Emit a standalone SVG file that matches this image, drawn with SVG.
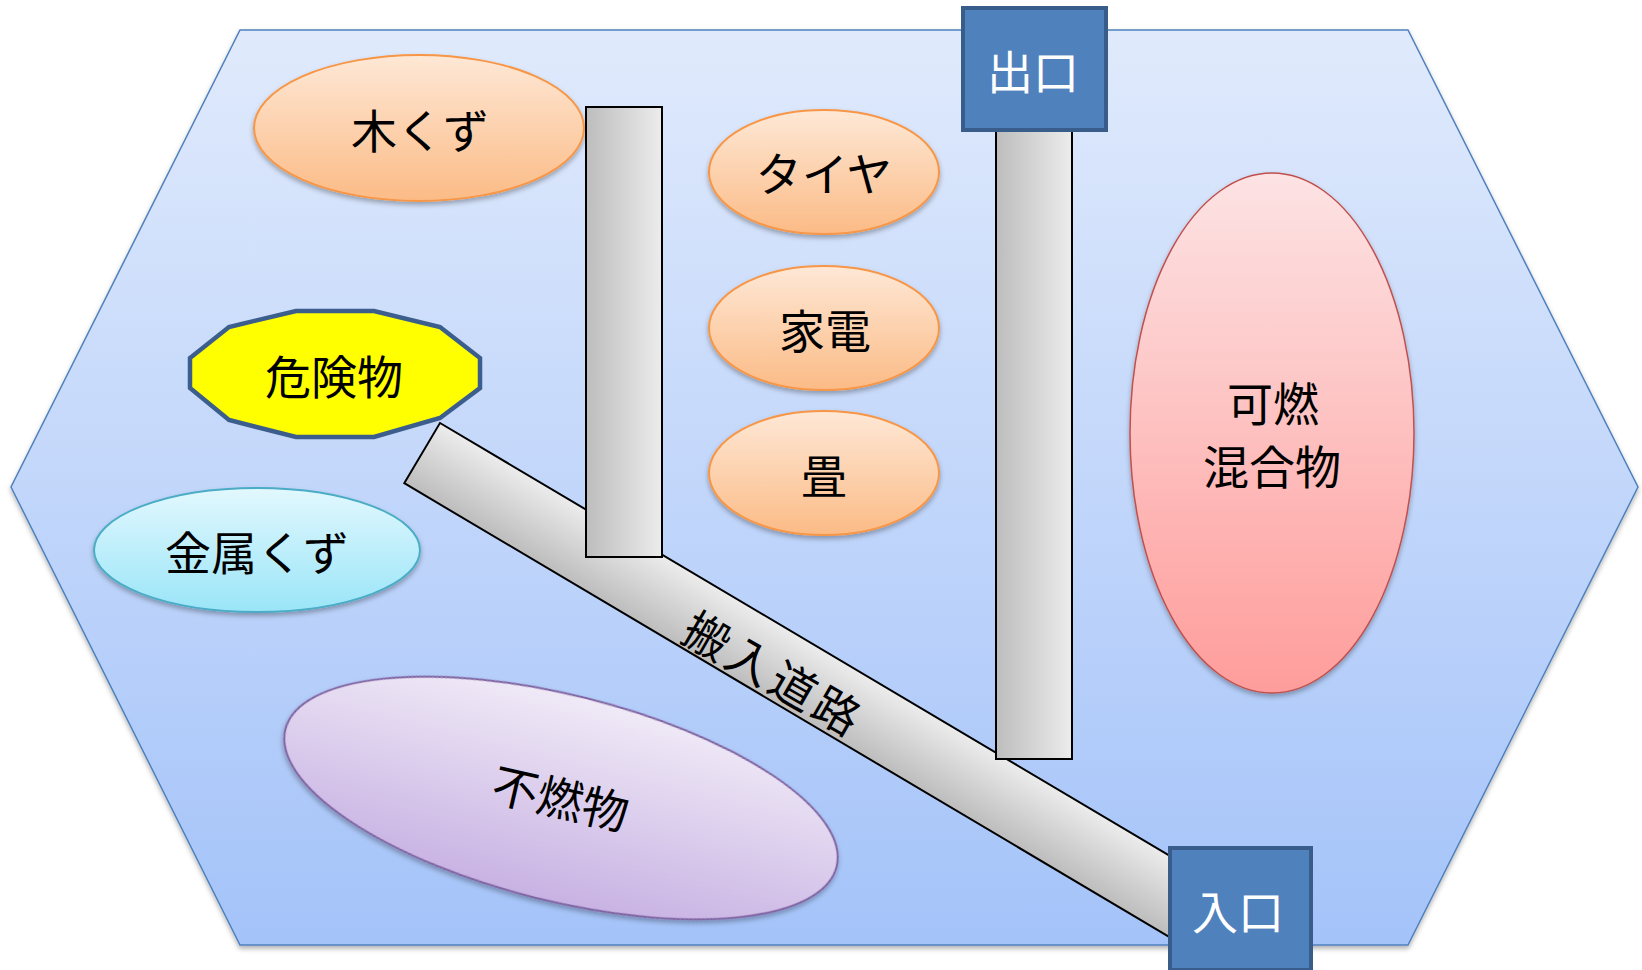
<svg xmlns="http://www.w3.org/2000/svg" width="1642" height="970" viewBox="0 0 1642 970">
<defs>
<linearGradient id="gBg" x1="0" y1="0" x2="0" y2="1"><stop offset="0" stop-color="#e0eafc"/><stop offset="1" stop-color="#a4c3f9"/></linearGradient>
<linearGradient id="gOr" x1="0" y1="0" x2="0" y2="1"><stop offset="0" stop-color="#fee8d6"/><stop offset="1" stop-color="#fbbb86"/></linearGradient>
<linearGradient id="gCy" x1="0" y1="0" x2="0" y2="1"><stop offset="0" stop-color="#e2f8fe"/><stop offset="1" stop-color="#9ae5f8"/></linearGradient>
<linearGradient id="gRd" x1="0" y1="0" x2="0" y2="1"><stop offset="0" stop-color="#fde3e4"/><stop offset="1" stop-color="#fe9d9b"/></linearGradient>
<linearGradient id="gPu" x1="0" y1="0" x2="0" y2="1"><stop offset="0" stop-color="#f0eaf7"/><stop offset="1" stop-color="#c8b2e3"/></linearGradient>
<linearGradient id="gBar" x1="0" y1="0" x2="1" y2="0"><stop offset="0" stop-color="#bdbdbd"/><stop offset="1" stop-color="#ececec"/></linearGradient>
<linearGradient id="gRoad" x1="0" y1="0" x2="0" y2="1"><stop offset="0" stop-color="#ececec"/><stop offset="1" stop-color="#bdbdbd"/></linearGradient>
<filter id="sh" x="-10%" y="-10%" width="120%" height="130%"><feDropShadow dx="0" dy="3" stdDeviation="2.5" flood-color="#000" flood-opacity="0.3"/></filter>
<style>
.t{font-family:"Noto Sans CJK JP","Noto Sans CJK SC",sans-serif;font-size:46px;fill:#000;text-anchor:middle;dominant-baseline:central}
.w{fill:#fff}
.or{fill:url(#gOr);stroke:#f79646;stroke-width:2}
.bar{fill:url(#gBar);stroke:#000;stroke-width:2}
.box{fill:#4f81bd;stroke:#385d8a;stroke-width:4}
</style>
</defs>
<g id="site">
<polygon points="240,30 1408,30 1638,487 1408,945 240,945 11,487" fill="url(#gBg)" stroke="#4f81bd" stroke-width="1.5" filter="url(#sh)"/>
</g>
<g id="mokuzu"><ellipse class="or" cx="419" cy="128" rx="165" ry="73" filter="url(#sh)"/><text class="t" x="420" y="128">木くず</text></g>
<g id="taiya"><ellipse class="or" cx="824" cy="172" rx="115" ry="62" filter="url(#sh)"/><text class="t" x="824" y="171">タイヤ</text></g>
<g id="kaden"><ellipse class="or" cx="824" cy="328" rx="115" ry="62" filter="url(#sh)"/><text class="t" x="825" y="328">家電</text></g>
<g id="tatami"><ellipse class="or" cx="824" cy="473" rx="115" ry="62" filter="url(#sh)"/><text class="t" x="824" y="473">畳</text></g>
<g id="kinzoku"><ellipse cx="257" cy="550" rx="163" ry="62" fill="url(#gCy)" stroke="#4bacc6" stroke-width="2" filter="url(#sh)"/><text class="t" x="257" y="550">金属くず</text></g>
<g id="kanen"><ellipse cx="1272" cy="433" rx="142" ry="260" fill="url(#gRd)" stroke="#c0504d" stroke-width="1.5" filter="url(#sh)"/><text class="t" x="1273" y="401">可燃</text><text class="t" x="1272" y="464">混合物</text></g>
<g id="funen"><g transform="translate(561,798) rotate(14)"><ellipse cx="0" cy="0" rx="284" ry="103" fill="url(#gPu)" stroke="#8064a2" stroke-width="2" filter="url(#sh)"/></g><text class="t" x="561" y="796" transform="rotate(13 561 796)">不燃物</text></g>
<g id="connectors">
<g id="road"><g transform="translate(440,423) rotate(30.67)"><rect x="0" y="0" width="900" height="70" fill="url(#gRoad)" stroke="#000" stroke-width="2"/></g><text class="t" x="775" y="672" transform="rotate(30 775 672)" letter-spacing="4">搬入道路</text></g>
<rect id="bar1" class="bar" x="586" y="107" width="76" height="450"/>
<rect id="bar2" class="bar" x="996" y="120" width="76" height="639"/>
</g>
<g id="kikenbutsu"><polygon points="296,311 374,311 440,327 480,358 480,388 440,418 374,437 296,437 229,420 190,388 190,358 229,327" fill="#ffff00" stroke="#3b5e8c" stroke-width="4.5"/><text class="t" x="334" y="374">危険物</text></g>
<g id="deguchi"><rect class="box" x="963" y="8" width="143" height="122"/><text class="t w" x="1033" y="69">出口</text></g>
<g id="iriguchi"><rect class="box" x="1170" y="848" width="141" height="122"/><text class="t w" x="1238" y="909">入口</text></g>
</svg>
